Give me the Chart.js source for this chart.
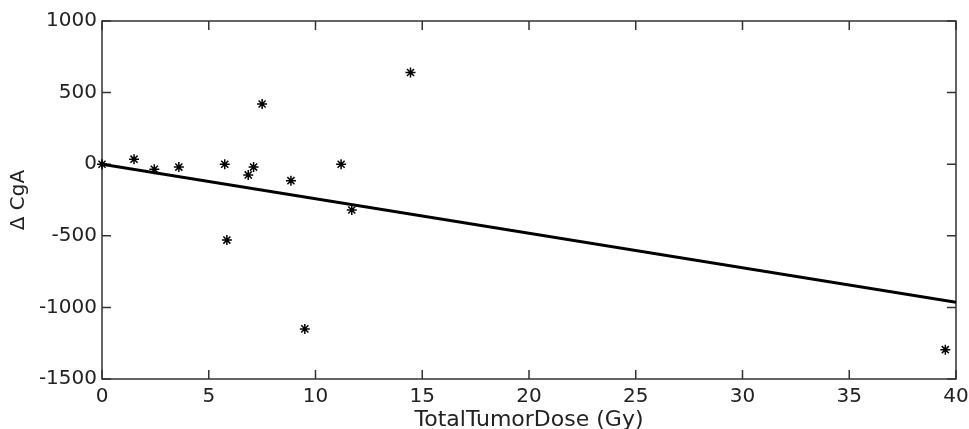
<!DOCTYPE html>
<html>
<head>
<meta charset="utf-8">
<script src="https://cdn.jsdelivr.net/npm/chart.js@4"></script>
<style>
  html, body { margin: 0; padding: 0; background: #fff; }
  #wrap { width: 969px; height: 429px; }
</style>
</head>
<body>
<div id="wrap"><canvas id="myChart"></canvas></div>
<script>
// measured points: total tumor dose (Gy) vs change in CgA
const doseX = [0, 1.5, 2.45, 3.6, 5.75, 5.85, 6.85, 7.1, 7.5, 8.85, 9.5, 11.2, 11.7, 14.45, 39.5];
const deltaCgA = [0, 35, -35, -20, 0, -530, -75, -20, 420, -115, -1150, 0, -320, 640, -1295];

// fitted line end points
const fitX = [0, 40];
const fitY = [0, -965];

const xTicks = [0, 5, 10, 15, 20, 25, 30, 35, 40];
const yTicks = [-1500, -1000, -500, 0, 500, 1000];

const font = "'DejaVu Sans', Verdana, sans-serif";

// box round the plot with inward ticks on all four sides
const frameTicks = {
  id: "frameTicks",
  beforeDatasetsDraw(chart) {
    const { ctx, chartArea: a, scales } = chart;
    const x = scales.x;
    const y = scales.y;
    const len = 9;
    ctx.save();
    ctx.strokeStyle = "#333";
    ctx.lineWidth = 1.5;
    ctx.strokeRect(a.left, a.top, a.right - a.left, a.bottom - a.top);
    ctx.beginPath();
    xTicks.forEach((v) => {
      const px = x.getPixelForValue(v);
      ctx.moveTo(px, a.bottom);
      ctx.lineTo(px, a.bottom - len);
      ctx.moveTo(px, a.top);
      ctx.lineTo(px, a.top + len);
    });
    yTicks.forEach((v) => {
      const py = y.getPixelForValue(v);
      ctx.moveTo(a.left, py);
      ctx.lineTo(a.left + len, py);
      ctx.moveTo(a.right, py);
      ctx.lineTo(a.right - len, py);
    });
    ctx.stroke();
    ctx.restore();
  },
};

const ctx = document.getElementById("myChart");

new Chart(ctx, {
  type: "scatter",
  data: {
    datasets: [
      {
        label: "data",
        data: doseX.map((v, i) => ({ x: v, y: deltaCgA[i] })),
        pointStyle: "star",
        pointRadius: 5,
        pointBorderWidth: 1.5,
        borderColor: "#000",
        backgroundColor: "#000",
        clip: false,
      },
      {
        type: "line",
        label: "fit",
        data: fitX.map((v, i) => ({ x: v, y: fitY[i] })),
        borderColor: "#000",
        borderWidth: 3,
        pointRadius: 0,
        fill: false,
      },
    ],
  },
  options: {
    responsive: true,
    maintainAspectRatio: false,
    animation: false,
    devicePixelRatio: 1,
    layout: { padding: { top: 21, right: 13, left: 0, bottom: 0 } },
    plugins: {
      legend: { display: false },
      tooltip: { enabled: false },
    },
    scales: {
      x: {
        type: "linear",
        min: 0,
        max: 40,
        afterBuildTicks: (s) => { s.ticks = xTicks.map((v) => ({ value: v })); },
        afterFit: (s) => {
          s.height = 50;
          s.paddingLeft = 0;
          s.paddingRight = 0;
        },
        grid: { display: false, drawTicks: false },
        border: { display: false },
        ticks: {
          color: "#222",
          padding: 6,
          font: { family: font, size: 20 },
          callback: (v) => String(v),
        },
        title: {
          display: true,
          text: "TotalTumorDose (Gy)",
          color: "#222",
          padding: { top: 0, bottom: -4 },
          font: { family: font, size: 22 },
        },
      },
      y: {
        type: "linear",
        min: -1500,
        max: 1000,
        afterBuildTicks: (s) => { s.ticks = yTicks.map((v) => ({ value: v })); },
        afterFit: (s) => {
          s.width = 102;
          s.paddingTop = 0;
          s.paddingBottom = 0;
        },
        grid: { display: false, drawTicks: false },
        border: { display: false },
        ticks: {
          color: "#222",
          padding: 5,
          font: { family: font, size: 20 },
          callback: (v) => String(v),
        },
        title: {
          display: true,
          text: "Δ CgA",
          color: "#222",
          padding: { top: 7, bottom: 0 },
          font: { family: font, size: 20 },
        },
      },
    },
  },
  plugins: [frameTicks],
});
</script>
</body>
</html>
